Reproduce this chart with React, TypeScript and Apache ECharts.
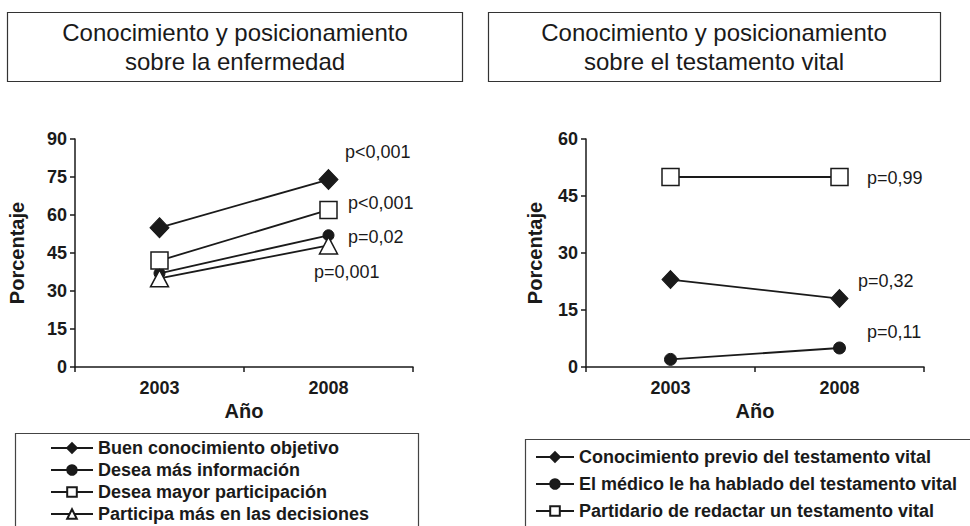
import React, { useEffect, useRef } from "react";
import * as echarts from "echarts";

const years = ["2003", "2008"];

// Left chart: Conocimiento y posicionamiento sobre la enfermedad
const leftNames = [
  "Buen conocimiento objetivo",
  "Desea más información",
  "Desea mayor participación",
  "Participa más en las decisiones",
];
const buenConocimiento = [55, 74];
const deseaMasInformacion = [37, 52];
const deseaMayorParticipacion = [42, 62];
const participaMas = [35, 48];

// Right chart: Conocimiento y posicionamiento sobre el testamento vital
const rightNames = [
  "Conocimiento previo del testamento vital",
  "El médico le ha hablado del testamento vital",
  "Partidario de redactar un testamento vital",
];
const conocimientoPrevio = [23, 18];
const medicoHablado = [2, 5];
const partidario = [50, 50];

const leftPValues = ["p<0,001", "p<0,001", "p=0,02", "p=0,001"];
const rightPValues = ["p=0,99", "p=0,32", "p=0,11"];

const FONT = "'Liberation Sans', Arial, Helvetica, sans-serif";
const INK = "#1a1a1a";

export default function App() {
  const ref = useRef<HTMLDivElement>(null);

  useEffect(() => {
    document.body.style.margin = "0";
    if (!ref.current) return;
    const chart = echarts.init(ref.current, null, { renderer: "svg" });

    const xAxisCommon = (gridIndex: number) => ({
      type: "category",
      gridIndex,
      data: years,
      boundaryGap: true,
      name: "Año",
      nameLocation: "middle",
      nameGap: 34,
      nameTextStyle: { fontFamily: FONT, fontWeight: "bold", fontSize: 20, color: INK },
      axisLine: { lineStyle: { color: INK, width: 1.5 } },
      axisTick: { show: true, length: 5, lineStyle: { color: INK, width: 1.5 } },
      axisLabel: { fontFamily: FONT, fontWeight: "bold", fontSize: 18, color: INK, margin: 12 },
      splitLine: { show: false },
    });

    const yAxisCommon = (gridIndex: number, max: number, interval: number, nameGap: number) => ({
      type: "value",
      gridIndex,
      min: 0,
      max,
      interval,
      name: "Porcentaje",
      nameLocation: "middle",
      nameGap,
      nameTextStyle: { fontFamily: FONT, fontWeight: "bold", fontSize: 20, color: INK },
      axisLine: { show: true, lineStyle: { color: INK, width: 1.5 } },
      axisTick: { show: true, length: 5, lineStyle: { color: INK, width: 1.5 } },
      axisLabel: { fontFamily: FONT, fontWeight: "bold", fontSize: 18, color: INK, margin: 8 },
      splitLine: { show: false },
    });

    const lineStyle = { color: INK, width: 1.8 };
    const filled = { color: INK, borderColor: INK, borderWidth: 1 };
    const hollow = { color: "#ffffff", borderColor: INK, borderWidth: 1.5 };

    const pText = (text: string, x: number, y: number) => ({
      type: "text",
      x,
      y,
      style: {
        text,
        fontFamily: FONT,
        fontSize: 18,
        fill: INK,
        verticalAlign: "middle",
        align: "left",
      },
    });

    const titleText = (text: string, cx: number) => ({
      type: "text",
      x: cx,
      y: 47,
      style: {
        text,
        fontFamily: FONT,
        fontSize: 24,
        fill: INK,
        align: "center",
        verticalAlign: "middle",
        lineHeight: 29,
      },
    });

    const option = {
      animation: false,
      backgroundColor: "#ffffff",
      grid: [
        { left: 75, top: 139, width: 338, height: 228 },
        { left: 586, top: 139, width: 338, height: 228 },
      ],
      xAxis: [xAxisCommon(0), xAxisCommon(1)],
      yAxis: [yAxisCommon(0, 90, 15, 48), yAxisCommon(1, 60, 15, 41)],
      legend: [
        {
          data: leftNames,
          orient: "vertical",
          left: 50,
          top: 439,
          padding: 0,
          itemWidth: 42,
          itemHeight: 12,
          itemGap: 4,
          textStyle: { fontFamily: FONT, fontWeight: "bold", fontSize: 18, color: INK, lineHeight: 18 },
        },
        {
          data: rightNames,
          orient: "vertical",
          left: 535,
          top: 448,
          padding: 0,
          itemWidth: 38,
          itemHeight: 12,
          itemGap: 9,
          textStyle: { fontFamily: FONT, fontWeight: "bold", fontSize: 18, color: INK, lineHeight: 18 },
        },
      ],
      series: [
        {
          name: leftNames[0],
          type: "line",
          xAxisIndex: 0,
          yAxisIndex: 0,
          data: buenConocimiento,
          symbol: "diamond",
          symbolSize: [19, 20],
          lineStyle,
          itemStyle: filled,
        },
        {
          name: leftNames[1],
          type: "line",
          xAxisIndex: 0,
          yAxisIndex: 0,
          data: deseaMasInformacion,
          symbol: "circle",
          symbolSize: 11,
          lineStyle,
          itemStyle: filled,
        },
        {
          name: leftNames[2],
          type: "line",
          xAxisIndex: 0,
          yAxisIndex: 0,
          data: deseaMayorParticipacion,
          symbol: "rect",
          symbolSize: 17,
          lineStyle,
          itemStyle: hollow,
        },
        {
          name: leftNames[3],
          type: "line",
          xAxisIndex: 0,
          yAxisIndex: 0,
          data: participaMas,
          symbol: "triangle",
          symbolSize: [18, 17],
          lineStyle,
          itemStyle: hollow,
        },
        {
          name: rightNames[0],
          type: "line",
          xAxisIndex: 1,
          yAxisIndex: 1,
          data: conocimientoPrevio,
          symbol: "diamond",
          symbolSize: [17, 18],
          lineStyle,
          itemStyle: filled,
        },
        {
          name: rightNames[1],
          type: "line",
          xAxisIndex: 1,
          yAxisIndex: 1,
          data: medicoHablado,
          symbol: "circle",
          symbolSize: 12,
          lineStyle,
          itemStyle: filled,
        },
        {
          name: rightNames[2],
          type: "line",
          xAxisIndex: 1,
          yAxisIndex: 1,
          data: partidario,
          symbol: "rect",
          symbolSize: 17,
          lineStyle,
          itemStyle: hollow,
        },
      ],
      graphic: [
        // title boxes
        { type: "rect", shape: { x: 7.5, y: 12.5, width: 455, height: 69 }, style: { fill: "none", stroke: "#333", lineWidth: 1.2 } },
        { type: "rect", shape: { x: 488.5, y: 12.5, width: 452, height: 69 }, style: { fill: "none", stroke: "#333", lineWidth: 1.2 } },
        titleText("Conocimiento y posicionamiento\nsobre la enfermedad", 235),
        titleText("Conocimiento y posicionamiento\nsobre el testamento vital", 714),
        // legend boxes
        { type: "rect", shape: { x: 15.5, y: 433.5, width: 403, height: 110 }, style: { fill: "none", stroke: "#444", lineWidth: 1.2 } },
        { type: "rect", shape: { x: 525.5, y: 439.5, width: 470, height: 110 }, style: { fill: "none", stroke: "#444", lineWidth: 1.2 } },
        // p-values
        pText(leftPValues[0], 345, 152),
        pText(leftPValues[1], 348, 203),
        pText(leftPValues[2], 348, 237),
        pText(leftPValues[3], 314, 272),
        pText(rightPValues[0], 867, 178),
        pText(rightPValues[1], 858, 281),
        pText(rightPValues[2], 867, 332),
      ],
    };

    chart.setOption(option as any);
    return () => chart.dispose();
  }, []);

  return <div ref={ref} style={{ width: 970, height: 526 }} />;
}
